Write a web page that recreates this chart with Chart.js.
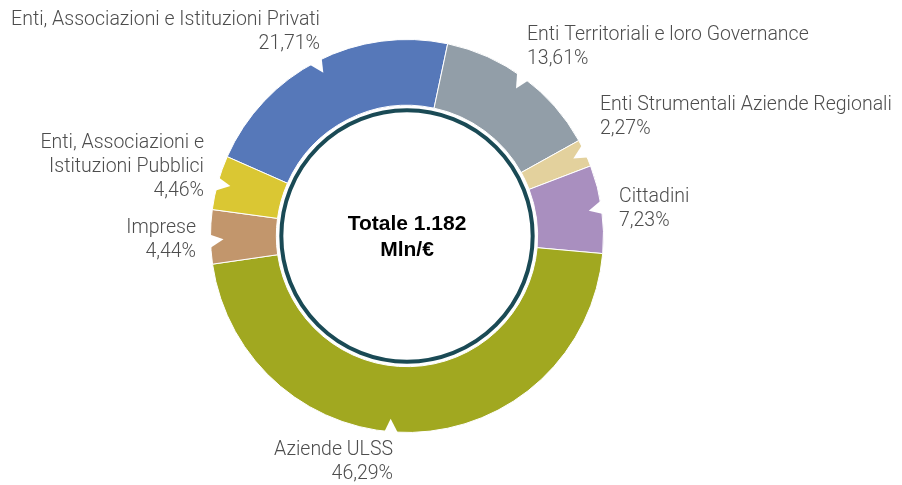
<!DOCTYPE html>
<html lang="it">
<head>
  <meta charset="UTF-8" />
  <title>Totale 1.182 Mln/€</title>
  <script src="https://cdn.jsdelivr.net/npm/chart.js"></script>
  <style>
    html, body { margin: 0; padding: 0; background: #fff; }
    #wrap { width: 902px; height: 485px; position: relative; }
  </style>
</head>
<body>
  <div id="wrap"><canvas id="chart1"></canvas></div>

  <script>
    // data, clockwise from the yellow/blue boundary
    const categories = [
      ['Enti, Associazioni e Istituzioni Privati'],
      ['Enti Territoriali e loro Governance'],
      ['Enti Strumentali Aziende Regionali'],
      ['Cittadini'],
      ['Aziende ULSS'],
      ['Imprese'],
      ['Enti, Associazioni e', 'Istituzioni Pubblici']
    ];
    const shares = [21.71, 13.61, 2.27, 7.23, 46.29, 4.44, 4.46];
    const shareLabels = ['21,71%', '13,61%', '2,27%', '7,23%', '46,29%', '4,44%', '4,46%'];
    const colors = ['#5678b9', '#929ea8', '#e3d19d', '#a98fbf', '#a1a820', '#c2966c', '#dac733'];
    const centerText = ['Totale 1.182', 'Mln/€'];

    // label placement: offset of the first line from the centre, alignment
    const labelPos = [
      { dx: -87, dy: -216, align: 'right' },
      { dx: 120, dy: -201, align: 'left' },
      { dx: 193, dy: -131, align: 'left' },
      { dx: 212, dy: -39, align: 'left' },
      { dx: -14, dy: 214, align: 'right' },
      { dx: -211, dy: -8, align: 'right' },
      { dx: -203, dy: -93, align: 'right' }
    ];
    // where the small notch sits inside each slice (0 = start, 1 = end)
    const notchAt = [0.5, 0.5, 0.5, 0.5, 0.54, 0.45, 0.5];

    const labelsPlugin = {
      id: 'labelsPlugin',
      afterDatasetsDraw(chart) {
        const ctx = chart.ctx;
        const meta = chart.getDatasetMeta(0);
        const arc0 = meta.data[0];
        const cx = arc0.x, cy = arc0.y;
        const outer = arc0.outerRadius, inner = arc0.innerRadius;

        // notches cut into the outer edge
        ctx.save();
        ctx.fillStyle = '#fff';
        meta.data.forEach((arc, i) => {
          const a = arc.startAngle + (arc.endAngle - arc.startAngle) * notchAt[i];
          const w = 0.05;
          ctx.beginPath();
          ctx.moveTo(cx + Math.cos(a - w) * (outer + 3), cy + Math.sin(a - w) * (outer + 3));
          ctx.lineTo(cx + Math.cos(a) * (outer - 13), cy + Math.sin(a) * (outer - 13));
          ctx.lineTo(cx + Math.cos(a + w * 0.6) * (outer + 3), cy + Math.sin(a + w * 0.6) * (outer + 3));
          ctx.closePath();
          ctx.fill();
        });
        ctx.restore();

        // dark ring inside the doughnut
        ctx.save();
        ctx.beginPath();
        ctx.arc(cx, cy, inner - 5, 0, Math.PI * 2);
        ctx.strokeStyle = '#1a4a55';
        ctx.lineWidth = 4;
        ctx.stroke();
        ctx.restore();

        // centre text
        ctx.save();
        ctx.fillStyle = '#000';
        ctx.font = 'bold 21px "Liberation Sans", Arial, sans-serif';
        ctx.textAlign = 'center';
        ctx.textBaseline = 'middle';
        ctx.fillText(centerText[0], cx, cy - 12);
        ctx.fillText(centerText[1], cx, cy + 14);
        ctx.restore();

        // outside labels
        ctx.save();
        ctx.fillStyle = '#4d4d4d';
        ctx.font = '300 19.5px Roboto, "Liberation Sans", sans-serif';
        ctx.textBaseline = 'middle';
        categories.forEach((lines, i) => {
          const p = labelPos[i];
          ctx.textAlign = p.align;
          const all = lines.concat([shareLabels[i]]);
          all.forEach((t, k) => {
            ctx.fillText(t, cx + p.dx, cy + p.dy + k * 24);
          });
        });
        ctx.restore();
      }
    };

    new Chart(document.getElementById('chart1'), {
      type: 'doughnut',
      data: {
        labels: categories.map(c => c.join(' ')),
        datasets: [{
          data: shares,
          backgroundColor: colors,
          borderColor: '#fff',
          borderWidth: 1
        }]
      },
      options: {
        responsive: true,
        maintainAspectRatio: false,
        animation: false,
        rotation: -66.2,
        cutout: '66.5%',
        layout: { padding: { top: 39, bottom: 52, left: 210, right: 298 } },
        plugins: {
          legend: { display: false },
          tooltip: { enabled: false }
        }
      },
      plugins: [labelsPlugin]
    });
  </script>
</body>
</html>
